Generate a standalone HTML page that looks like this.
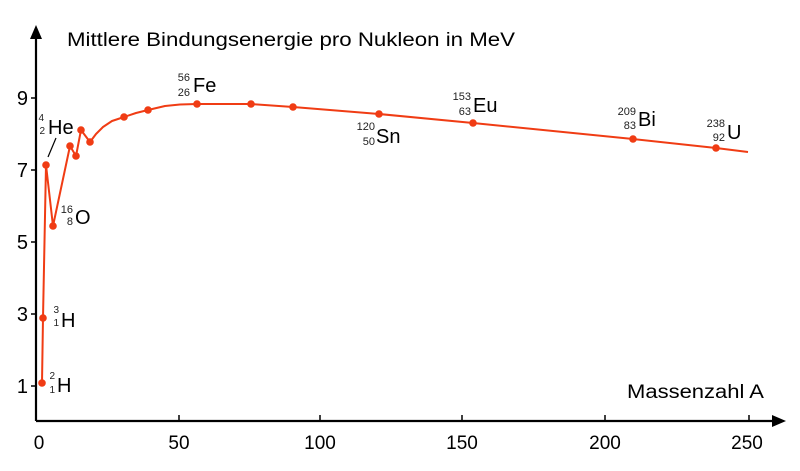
<!DOCTYPE html>
<html><head><meta charset="utf-8"><style>
html,body{margin:0;padding:0;background:#fff;}
svg{display:block;font-family:"Liberation Sans",Arial,sans-serif;}
.s{font-size:11px;fill:#222;}
.b{font-size:20px;fill:#000;}
</style></head><body>
<svg width="800" height="471" viewBox="0 0 800 471">
<!-- axes -->
<line x1="36" y1="421" x2="775" y2="421" stroke="#000" stroke-width="2.2"/>
<polygon points="786,421 772,415 772,427" fill="#000"/>
<line x1="36" y1="421" x2="36" y2="38" stroke="#000" stroke-width="2.2"/>
<polygon points="36,25 30,39 42,39" fill="#000"/>
<!-- y ticks -->
<g stroke="#000" stroke-width="1.5">
<line x1="31" y1="386" x2="36" y2="386"/>
<line x1="31" y1="314" x2="36" y2="314"/>
<line x1="31" y1="242" x2="36" y2="242"/>
<line x1="31" y1="170" x2="36" y2="170"/>
<line x1="31" y1="98" x2="36" y2="98"/>
<line x1="179" y1="415" x2="179" y2="421"/>
<line x1="320" y1="415" x2="320" y2="421"/>
<line x1="462" y1="415" x2="462" y2="421"/>
<line x1="605" y1="415" x2="605" y2="421"/>
<line x1="749" y1="415" x2="749" y2="421"/>
</g>
<g font-size="20" fill="#000" text-anchor="end">
<text x="28" y="393">1</text>
<text x="28" y="321">3</text>
<text x="28" y="249">5</text>
<text x="28" y="177">7</text>
<text x="28" y="105">9</text>
</g>
<g font-size="19" fill="#000" text-anchor="middle">
<text x="39" y="449">0</text>
<text x="179" y="449">50</text>
<text x="320" y="449">100</text>
<text x="462" y="449">150</text>
<text x="605" y="449">200</text>
<text x="747" y="449">250</text>
</g>
<text x="67" y="46" font-size="19" textLength="448" lengthAdjust="spacingAndGlyphs">Mittlere Bindungsenergie pro Nukleon in MeV</text>
<text x="627" y="398" font-size="19" textLength="137" lengthAdjust="spacingAndGlyphs">Massenzahl A</text>
<!-- curve -->
<polyline fill="none" stroke="#f03c14" stroke-width="2" stroke-linejoin="round" points="42,383 43,318 46,165 53,226 70,146 76,156 81,130 90,142 96,134 103,127 112,121 124,117 136,113 148,110 165,106 180,104.5 197,104 251,104 293,107 379,114 473,123 633,139 716,148 748,152"/>
<g fill="#f03c14">
<circle cx="42" cy="383" r="3.8"/><circle cx="43" cy="318" r="3.8"/>
<circle cx="46" cy="165" r="3.8"/><circle cx="53" cy="226" r="3.8"/>
<circle cx="70" cy="146" r="3.8"/><circle cx="76" cy="156" r="3.8"/>
<circle cx="81" cy="130" r="3.8"/><circle cx="90" cy="142" r="3.8"/>
<circle cx="124" cy="117" r="3.8"/><circle cx="148" cy="110" r="3.8"/>
<circle cx="197" cy="104" r="3.8"/><circle cx="251" cy="104" r="3.8"/>
<circle cx="293" cy="107" r="3.8"/><circle cx="379" cy="114" r="3.8"/>
<circle cx="473" cy="123" r="3.8"/><circle cx="633" cy="139" r="3.8"/>
<circle cx="716" cy="148" r="3.8"/>
</g>
<!-- labels -->
<line x1="56" y1="138" x2="48" y2="157" stroke="#000" stroke-width="1.2"/>
<text class="s" x="44" y="121" text-anchor="end" style="font-size:10px">4</text>
<text class="s" x="45" y="134" text-anchor="end" style="font-size:10px">2</text>
<text class="b" x="48" y="134">He</text>
<text class="s" x="73" y="213" text-anchor="end">16</text>
<text class="s" x="73" y="225" text-anchor="end">8</text>
<text class="b" x="75" y="224">O</text>
<text class="s" x="59" y="313" text-anchor="end" style="font-size:10px">3</text>
<text class="s" x="59" y="326" text-anchor="end" style="font-size:10px">1</text>
<text class="b" x="61" y="327">H</text>
<text class="s" x="55" y="379" text-anchor="end" style="font-size:10px">2</text>
<text class="s" x="55" y="393" text-anchor="end" style="font-size:10px">1</text>
<text class="b" x="57" y="392">H</text>
<text class="s" x="190" y="81" text-anchor="end">56</text>
<text class="s" x="190" y="96" text-anchor="end">26</text>
<text class="b" x="193" y="92">Fe</text>
<text class="s" x="375" y="130" text-anchor="end">120</text>
<text class="s" x="375" y="145" text-anchor="end">50</text>
<text class="b" x="376" y="143">Sn</text>
<text class="s" x="471" y="100" text-anchor="end">153</text>
<text class="s" x="471" y="115" text-anchor="end">63</text>
<text class="b" x="473" y="112">Eu</text>
<text class="s" x="636" y="115" text-anchor="end">209</text>
<text class="s" x="636" y="129" text-anchor="end">83</text>
<text class="b" x="638" y="126">Bi</text>
<text class="s" x="725" y="127" text-anchor="end">238</text>
<text class="s" x="725" y="141" text-anchor="end">92</text>
<text class="b" x="727" y="139">U</text>
</svg>
</body></html>
